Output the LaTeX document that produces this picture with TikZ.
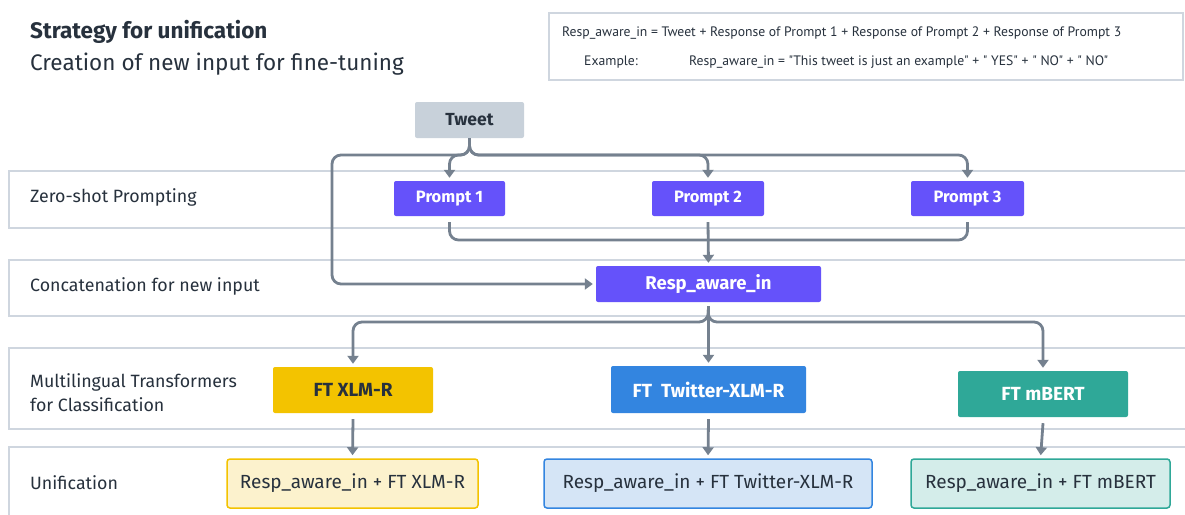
\documentclass[tikz,border=0pt]{standalone}
\usepackage{fontspec}
\setmainfont{Fira Sans}
\newfontfamily\narrowfont{PT Sans}
\usetikzlibrary{arrows.meta,calc}
\definecolor{ink}{HTML}{27313D}
\definecolor{laneC}{HTML}{CFD6DF}
\definecolor{flowC}{HTML}{75818F}
\definecolor{promptC}{HTML}{6552FA}
\definecolor{tweetC}{HTML}{C8D1DA}
\definecolor{xlmC}{HTML}{F3C300}
\definecolor{xlmL}{HTML}{FCF2CD}
\definecolor{twC}{HTML}{3385E0}
\definecolor{twL}{HTML}{D5E5F6}
\definecolor{mbC}{HTML}{2FA898}
\definecolor{mbL}{HTML}{D4EDEA}
\tikzset{
  lane/.style={draw=laneC, line width=1.5pt},
  lanelabel/.style={anchor=west, text=ink, font=\fontsize{17.8}{24}\selectfont, align=left, inner sep=0pt},
  deftext/.style={anchor=west, inner sep=0pt, text=ink, font=\narrowfont\fontsize{13.7}{16}\selectfont},
  box/.style={rounded corners=2pt, inner sep=0pt, font=\fontsize{16.5}{20}\selectfont\bfseries},
  promptbox/.style={box, fill=promptC, text=white, minimum height=35pt},
  modelbox/.style={box, minimum height=46pt, font=\fontsize{19}{22}\selectfont\bfseries},
  unibox/.style={rounded corners=3pt, inner sep=0pt, line width=1.5pt, minimum height=49pt, text=ink, font=\fontsize{19}{22}\selectfont},
  flow/.style={draw=flowC, line width=2.8pt, rounded corners=9pt},
  arr/.style={flow, -{Triangle[length=8pt,width=11pt]}, shorten >=3pt},
}
\begin{document}
\begin{tikzpicture}[x=1pt,y=-1pt]
\useasboundingbox (0,0) rectangle (1185,514);
\fill[white] (0,0) rectangle (1185,514);

% heading
\node[anchor=base west, inner sep=0pt, text=ink, font=\fontsize{22.5}{26}\selectfont\bfseries] (title) at (30,38) {Strategy for unification};
\node[anchor=base west, inner sep=0pt, text=ink, font=\fontsize{22.5}{26}\selectfont] (subtitle) at (30,70) {Creation of new input for fine-tuning};

% definition of the new input
\draw[draw=laneC, line width=1.5pt] (549,13) rectangle (1183,80);
\node[deftext] (defn) at (562,33)
  {Resp\_aware\_in = Tweet + Response of Prompt 1 + Response of Prompt 2 + Response of Prompt 3};
\node[deftext] (exlabel) at (584,62) {Example:};
\node[deftext] (example) at (689,62)
  {Resp\_aware\_in = "This tweet is just an example" + " YES" + " NO" + " NO"};

% lanes
\draw[lane] (1192,171) -- (9,171) -- (9,228) -- (1192,228);
\draw[lane] (1192,260) -- (9,260) -- (9,316) -- (1192,316);
\draw[lane] (1192,348) -- (9,348) -- (9,429) -- (1192,429);
\draw[lane] (1192,447) -- (9,447) -- (9,520);
\node[lanelabel] (l1) at (30,197) {Zero-shot Prompting};
\node[lanelabel] (l2) at (30,286) {Concatenation for new input};
\node[lanelabel] (l3) at (30,392.5) {Multilingual Transformers\\for Classification};
\node[lanelabel] (l4) at (30,483) {Unification};

% nodes
\node[box, fill=tweetC, text=ink, minimum width=109pt, minimum height=36pt, font=\fontsize{17.5}{20}\selectfont\bfseries] (tweet) at (469.5,120) {Tweet};
\node[promptbox, minimum width=111pt] (p1) at (449.5,198.5) {Prompt 1};
\node[promptbox, minimum width=112pt] (p2) at (708,198.5) {Prompt 2};
\node[promptbox, minimum width=113pt] (p3) at (967.5,198.5) {Prompt 3};
\node[promptbox, minimum width=225pt, minimum height=36pt, font=\fontsize{18.5}{22}\selectfont\bfseries] (resp) at (708.5,284) {Resp\_aware\_in};
\node[modelbox, fill=xlmC, text=ink, minimum width=160pt] (xlm) at (353,390) {FT XLM-R};
\node[modelbox, fill=twC, text=white, minimum width=195pt, minimum height=47pt] (tw) at (708.5,389.5) {FT\ \ Twitter-XLM-R};
\node[modelbox, fill=mbC, text=white, minimum width=170pt] (mb) at (1043,394) {FT mBERT};
\node[unibox, draw=xlmC, fill=xlmL, minimum width=251pt] (u1) at (352.5,483.5) {Resp\_aware\_in + FT XLM-R};
\node[unibox, draw=twC, fill=twL, minimum width=328pt] (u2) at (708,483.5) {Resp\_aware\_in + FT Twitter-XLM-R};
\node[unibox, draw=mbC, fill=mbL, minimum width=259pt] (u3) at (1040.5,483.5) {Resp\_aware\_in + FT mBERT};

% junction points
\coordinate (split) at (469.5,155);
\coordinate (loop) at (332,284);
\coordinate (merge) at (708,240);
\coordinate (fan) at (708,322);

% tweet to prompts and to the concatenation
\draw[arr] (tweet.south) -- (split) -| (p1.north);
\draw[arr] (tweet.south) -- (split) -| (p2.north);
\draw[arr] (tweet.south) -- (split) -| (p3.north);
\draw[arr] (tweet.south) -- (split) -| (loop) -- (resp.west);

% prompt responses into the concatenation
\draw[flow] ([yshift=-6pt]p1.south) |- (merge);
\draw[flow] ([yshift=-6pt]p3.south) |- (merge);
\draw[arr] ([yshift=-6pt]p2.south) -- (resp.north);

% new input to the three transformers
\draw[arr] ([yshift=-4pt]resp.south) -- (fan) -| (xlm.north);
\draw[arr] ([yshift=-4pt]resp.south) -- (fan) -| (mb.north);
\draw[arr] ([yshift=-4pt]resp.south) -- (tw.north);

% transformers to unification
\draw[arr] ([yshift=-6pt]xlm.south) -- (u1.north);
\draw[arr] ([yshift=-6pt]tw.south) -- (u2.north);
\draw[arr] ([yshift=-6pt]mb.south) -- (u3.north);
\end{tikzpicture}
\end{document}
